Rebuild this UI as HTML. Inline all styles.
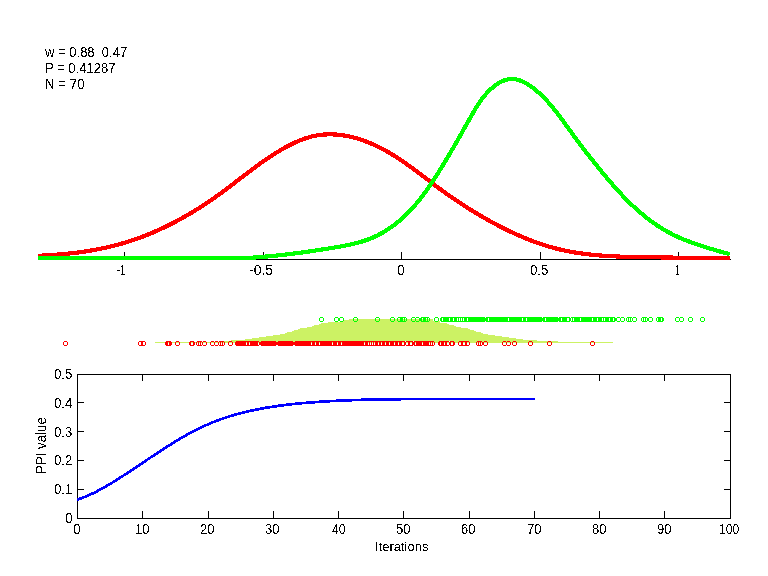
<!DOCTYPE html>
<html><head><meta charset="utf-8"><style>
html,body{margin:0;padding:0;background:#fff;width:768px;height:576px;overflow:hidden}
svg{display:block}
</style></head><body>
<svg width="768" height="576" viewBox="0 0 768 576">
<rect width="768" height="576" fill="#fff"/>
<g shape-rendering="crispEdges" stroke="#000" stroke-width="1">
<line x1="38" y1="259.5" x2="731" y2="259.5"/>
<line x1="124.5" y1="252" x2="124.5" y2="259"/>
<line x1="263.5" y1="252" x2="263.5" y2="259"/>
<line x1="401.5" y1="252" x2="401.5" y2="259"/>
<line x1="540.5" y1="252" x2="540.5" y2="259"/>
<line x1="678.5" y1="252" x2="678.5" y2="259"/>
</g>
<path d="M38.04,255.78 L39.90,255.70 L41.77,255.61 L43.64,255.52 L45.51,255.42 L47.38,255.31 L49.26,255.20 L51.13,255.08 L53.01,254.95 L54.89,254.81 L56.77,254.67 L58.65,254.52 L60.53,254.36 L62.42,254.19 L64.30,254.01 L66.18,253.83 L68.07,253.64 L69.95,253.43 L71.83,253.22 L73.72,253.00 L75.60,252.77 L77.48,252.53 L79.36,252.28 L81.24,252.02 L83.12,251.76 L85.00,251.48 L86.88,251.19 L88.75,250.89 L90.62,250.58 L92.49,250.26 L94.36,249.93 L96.23,249.58 L98.09,249.23 L99.95,248.86 L101.81,248.48 L103.66,248.10 L105.51,247.69 L107.36,247.28 L109.21,246.86 L111.05,246.42 L112.88,245.97 L114.72,245.50 L116.54,245.03 L118.37,244.54 L120.19,244.04 L122.00,243.52 L123.81,242.99 L125.62,242.45 L127.42,241.90 L129.21,241.33 L131.00,240.75 L132.79,240.15 L134.57,239.55 L136.35,238.93 L138.12,238.30 L139.89,237.65 L141.65,237.00 L143.41,236.33 L145.16,235.65 L146.91,234.96 L148.65,234.26 L150.39,233.54 L152.12,232.82 L153.85,232.08 L155.57,231.33 L157.29,230.57 L159.01,229.80 L160.72,229.02 L162.42,228.22 L164.12,227.42 L165.82,226.60 L167.51,225.78 L169.19,224.94 L170.87,224.10 L172.55,223.24 L174.22,222.38 L175.89,221.50 L177.55,220.62 L179.20,219.72 L180.86,218.81 L182.50,217.90 L184.15,216.98 L185.78,216.04 L187.42,215.10 L189.04,214.15 L190.67,213.19 L192.29,212.22 L193.90,211.24 L195.51,210.25 L197.11,209.26 L198.71,208.25 L200.30,207.24 L201.89,206.22 L203.48,205.19 L205.06,204.15 L206.63,203.11 L208.20,202.06 L209.77,201.00 L211.33,199.93 L212.88,198.86 L214.44,197.77 L215.98,196.68 L217.52,195.59 L219.06,194.48 L220.59,193.37 L222.12,192.26 L223.64,191.13 L225.16,190.00 L226.67,188.87 L228.19,187.73 L229.70,186.59 L231.20,185.44 L232.71,184.29 L234.21,183.14 L235.71,181.99 L237.22,180.83 L238.72,179.68 L240.22,178.52 L241.72,177.37 L243.23,176.21 L244.73,175.06 L246.24,173.91 L247.75,172.76 L249.26,171.61 L250.77,170.47 L252.29,169.33 L253.81,168.19 L255.34,167.06 L256.87,165.93 L258.41,164.82 L259.95,163.70 L261.50,162.60 L263.05,161.50 L264.61,160.41 L266.18,159.33 L267.75,158.25 L269.33,157.19 L270.92,156.14 L272.52,155.10 L274.13,154.07 L275.75,153.05 L277.38,152.04 L279.02,151.05 L280.66,150.07 L282.32,149.10 L283.99,148.15 L285.67,147.21 L287.37,146.30 L289.07,145.41 L290.78,144.54 L292.50,143.69 L294.23,142.87 L295.96,142.08 L297.71,141.32 L299.46,140.58 L301.22,139.89 L302.99,139.22 L304.77,138.59 L306.55,138.00 L308.34,137.45 L310.14,136.94 L311.95,136.48 L313.76,136.06 L315.57,135.68 L317.39,135.35 L319.22,135.07 L321.05,134.84 L322.88,134.65 L324.72,134.51 L326.56,134.41 L328.40,134.35 L330.24,134.34 L332.09,134.37 L333.94,134.44 L335.78,134.54 L337.63,134.69 L339.48,134.88 L341.32,135.10 L343.17,135.36 L345.01,135.66 L346.85,135.99 L348.69,136.36 L350.52,136.76 L352.35,137.20 L354.18,137.66 L356.00,138.16 L357.81,138.69 L359.62,139.25 L361.42,139.84 L363.22,140.46 L365.01,141.10 L366.79,141.77 L368.56,142.47 L370.32,143.19 L372.08,143.94 L373.82,144.71 L375.55,145.51 L377.28,146.32 L378.99,147.16 L380.69,148.02 L382.38,148.90 L384.05,149.80 L385.72,150.71 L387.37,151.65 L389.02,152.60 L390.65,153.57 L392.28,154.55 L393.89,155.55 L395.50,156.57 L397.10,157.59 L398.69,158.63 L400.27,159.69 L401.85,160.75 L403.41,161.82 L404.98,162.91 L406.53,164.00 L408.08,165.11 L409.63,166.22 L411.17,167.34 L412.70,168.46 L414.24,169.59 L415.76,170.73 L417.29,171.87 L418.81,173.01 L420.33,174.16 L421.85,175.31 L423.36,176.46 L424.88,177.61 L426.39,178.76 L427.90,179.91 L429.41,181.06 L430.92,182.21 L432.44,183.36 L433.95,184.50 L435.46,185.64 L436.98,186.77 L438.50,187.90 L440.02,189.02 L441.54,190.13 L443.07,191.24 L444.60,192.34 L446.13,193.44 L447.67,194.53 L449.21,195.61 L450.75,196.68 L452.30,197.75 L453.85,198.81 L455.40,199.87 L456.96,200.92 L458.52,201.96 L460.09,202.99 L461.66,204.02 L463.23,205.05 L464.81,206.06 L466.39,207.07 L467.98,208.08 L469.57,209.08 L471.16,210.07 L472.76,211.05 L474.37,212.03 L475.98,213.01 L477.59,213.98 L479.21,214.94 L480.84,215.90 L482.47,216.85 L484.10,217.79 L485.75,218.73 L487.39,219.66 L489.04,220.59 L490.70,221.50 L492.36,222.41 L494.02,223.32 L495.69,224.21 L497.37,225.10 L499.05,225.98 L500.73,226.85 L502.42,227.71 L504.11,228.56 L505.81,229.40 L507.52,230.24 L509.22,231.06 L510.94,231.88 L512.65,232.68 L514.37,233.47 L516.10,234.25 L517.83,235.03 L519.56,235.79 L521.30,236.53 L523.05,237.27 L524.79,238.00 L526.55,238.71 L528.30,239.41 L530.06,240.10 L531.83,240.77 L533.60,241.43 L535.37,242.08 L537.15,242.72 L538.93,243.34 L540.71,243.95 L542.50,244.54 L544.29,245.12 L546.09,245.68 L547.89,246.23 L549.69,246.76 L551.50,247.28 L553.31,247.78 L555.13,248.26 L556.95,248.73 L558.77,249.18 L560.60,249.62 L562.43,250.04 L564.26,250.44 L566.10,250.83 L567.94,251.20 L569.78,251.55 L571.63,251.89 L573.48,252.22 L575.33,252.53 L577.18,252.83 L579.04,253.11 L580.90,253.38 L582.76,253.64 L584.63,253.88 L586.50,254.11 L588.37,254.33 L590.24,254.54 L592.12,254.74 L593.99,254.93 L595.87,255.10 L597.75,255.27 L599.63,255.43 L601.52,255.57 L603.40,255.71 L605.29,255.84 L607.17,255.96 L609.06,256.07 L610.95,256.18 L612.85,256.28 L614.74,256.37 L616.63,256.45 L618.52,256.53 L620.42,256.60 L622.31,256.67 L624.21,256.73 L626.11,256.79 L628.00,256.84 L629.90,256.89 L631.80,256.93 L633.69,256.98 L635.59,257.01 L637.49,257.05 L639.38,257.08 L641.28,257.11 L643.18,257.14 L645.07,257.17 L646.97,257.20 L648.86,257.23 L650.75,257.25 L652.65,257.28 L654.54,257.31 L656.43,257.33 L658.32,257.36 L660.21,257.39 L662.09,257.42 L663.98,257.45 L665.87,257.48 L667.75,257.52 L669.64,257.55 L671.52,257.58 L673.40,257.61 L675.29,257.64 L677.17,257.67 L679.05,257.70 L680.93,257.73 L682.82,257.76 L684.70,257.79 L686.58,257.82 L688.46,257.84 L690.34,257.87 L692.23,257.89 L694.11,257.91 L695.99,257.93 L697.87,257.95 L699.76,257.97 L701.64,257.99 L703.53,258.00 L705.41,258.01 L707.30,258.02 L709.18,258.02 L711.07,258.03 L712.96,258.03 L714.85,258.03 L716.74,258.03 L718.63,258.03 L720.52,258.03 L722.42,258.03 L724.31,258.03 L726.21,258.03 L728.11,258.03 L730.00,258.03" fill="none" stroke="#ff0000" stroke-width="4.2" stroke-linejoin="round" shape-rendering="crispEdges"/>
<path d="M37.99,257.80 L40.10,257.80 L42.22,257.80 L44.33,257.80 L46.44,257.80 L48.56,257.80 L50.67,257.80 L52.78,257.80 L54.89,257.80 L57.00,257.80 L59.11,257.80 L61.22,257.80 L63.33,257.80 L65.44,257.80 L67.55,257.80 L69.66,257.80 L71.76,257.80 L73.87,257.80 L75.98,257.80 L78.09,257.80 L80.19,257.80 L82.30,257.80 L84.41,257.80 L86.51,257.80 L88.62,257.80 L90.72,257.80 L92.83,257.80 L94.94,257.80 L97.04,257.80 L99.15,257.80 L101.25,257.80 L103.36,257.80 L105.46,257.80 L107.57,257.80 L109.67,257.80 L111.78,257.80 L113.88,257.80 L115.99,257.80 L118.09,257.80 L120.20,257.80 L122.30,257.80 L124.41,257.80 L126.51,257.80 L128.62,257.80 L130.73,257.80 L132.83,257.80 L134.94,257.80 L137.05,257.80 L139.15,257.80 L141.26,257.80 L143.37,257.80 L145.47,257.80 L147.58,257.80 L149.69,257.80 L151.80,257.80 L153.91,257.80 L156.02,257.80 L158.13,257.80 L160.24,257.80 L162.35,257.80 L164.46,257.80 L166.57,257.80 L168.68,257.80 L170.80,257.80 L172.91,257.80 L175.02,257.80 L177.13,257.80 L179.25,257.80 L181.36,257.80 L183.47,257.80 L185.59,257.80 L187.70,257.80 L189.81,257.80 L191.93,257.80 L194.04,257.80 L196.16,257.80 L198.27,257.80 L200.38,257.80 L202.49,257.80 L204.61,257.80 L206.72,257.80 L208.83,257.80 L210.94,257.80 L213.06,257.80 L215.17,257.80 L217.28,257.80 L219.39,257.80 L221.50,257.80 L223.61,257.80 L225.72,257.80 L227.82,257.80 L229.93,257.80 L232.04,257.80 L234.15,257.80 L236.25,257.80 L238.36,257.80 L240.46,257.81 L242.56,257.82 L244.67,257.82 L246.77,257.80 L248.87,257.76 L250.97,257.69 L253.07,257.59 L255.17,257.46 L257.26,257.30 L259.36,257.09 L261.45,256.92 L263.55,256.75 L265.64,256.58 L267.74,256.40 L269.83,256.22 L271.92,256.02 L274.01,255.82 L276.11,255.61 L278.20,255.39 L280.29,255.17 L282.38,254.94 L284.47,254.70 L286.56,254.45 L288.65,254.20 L290.73,253.95 L292.82,253.69 L294.91,253.42 L297.00,253.14 L299.09,252.86 L301.18,252.58 L303.27,252.29 L305.35,252.00 L307.44,251.70 L309.53,251.40 L311.62,251.09 L313.71,250.78 L315.80,250.46 L317.89,250.14 L319.98,249.82 L322.07,249.50 L324.16,249.17 L326.25,248.84 L328.34,248.51 L330.43,248.17 L332.52,247.83 L334.62,247.49 L336.71,247.14 L338.80,246.78 L340.88,246.41 L342.96,246.03 L345.04,245.63 L347.12,245.22 L349.18,244.79 L351.24,244.34 L353.29,243.86 L355.34,243.36 L357.37,242.83 L359.39,242.27 L361.40,241.69 L363.40,241.06 L365.39,240.41 L367.36,239.71 L369.32,238.98 L371.27,238.20 L373.19,237.38 L375.10,236.52 L377.00,235.61 L378.87,234.66 L380.73,233.68 L382.57,232.65 L384.38,231.58 L386.18,230.48 L387.96,229.35 L389.71,228.18 L391.45,226.97 L393.16,225.74 L394.85,224.47 L396.51,223.17 L398.15,221.84 L399.77,220.49 L401.36,219.11 L402.92,217.70 L404.46,216.27 L405.98,214.82 L407.48,213.34 L408.95,211.84 L410.40,210.31 L411.83,208.77 L413.24,207.21 L414.63,205.62 L416.00,204.02 L417.35,202.40 L418.68,200.77 L420.00,199.12 L421.30,197.45 L422.58,195.77 L423.85,194.08 L425.10,192.37 L426.34,190.65 L427.56,188.92 L428.77,187.18 L429.97,185.43 L431.16,183.68 L432.33,181.91 L433.50,180.14 L434.65,178.36 L435.80,176.58 L436.93,174.79 L438.06,173.00 L439.18,171.21 L440.30,169.41 L441.40,167.61 L442.50,165.81 L443.60,164.01 L444.69,162.21 L445.77,160.41 L446.85,158.61 L447.92,156.80 L448.99,154.99 L450.06,153.19 L451.12,151.38 L452.17,149.57 L453.23,147.76 L454.28,145.95 L455.32,144.13 L456.36,142.32 L457.40,140.50 L458.44,138.69 L459.48,136.87 L460.51,135.05 L461.54,133.24 L462.57,131.42 L463.60,129.60 L464.63,127.77 L465.66,125.95 L466.69,124.13 L467.71,122.31 L468.74,120.48 L469.77,118.66 L470.79,116.83 L471.83,115.01 L472.87,113.19 L473.92,111.37 L474.98,109.56 L476.07,107.77 L477.18,105.98 L478.32,104.22 L479.50,102.46 L480.71,100.73 L481.95,99.02 L483.25,97.34 L484.59,95.68 L485.99,94.05 L487.44,92.46 L488.95,90.89 L490.53,89.36 L492.17,87.89 L493.87,86.47 L495.63,85.13 L497.44,83.88 L499.29,82.74 L501.18,81.73 L503.11,80.86 L505.08,80.14 L507.07,79.59 L509.09,79.23 L511.12,79.06 L513.16,79.08 L515.19,79.28 L517.22,79.65 L519.22,80.19 L521.18,80.89 L523.11,81.73 L525.01,82.70 L526.86,83.77 L528.68,84.93 L530.46,86.13 L532.20,87.38 L533.91,88.67 L535.57,89.99 L537.20,91.35 L538.80,92.75 L540.37,94.17 L541.91,95.63 L543.42,97.11 L544.90,98.62 L546.35,100.16 L547.78,101.72 L549.19,103.30 L550.58,104.91 L551.94,106.53 L553.29,108.17 L554.62,109.82 L555.94,111.49 L557.24,113.17 L558.52,114.86 L559.80,116.56 L561.07,118.27 L562.33,119.98 L563.58,121.70 L564.82,123.42 L566.06,125.14 L567.30,126.86 L568.54,128.58 L569.78,130.30 L571.02,132.01 L572.26,133.71 L573.50,135.41 L574.75,137.10 L575.99,138.79 L577.24,140.47 L578.50,142.15 L579.75,143.82 L581.01,145.49 L582.28,147.16 L583.54,148.82 L584.81,150.48 L586.09,152.13 L587.37,153.79 L588.65,155.44 L589.94,157.08 L591.23,158.73 L592.52,160.37 L593.82,162.01 L595.13,163.64 L596.44,165.28 L597.76,166.91 L599.08,168.54 L600.41,170.18 L601.74,171.81 L603.08,173.43 L604.43,175.06 L605.78,176.68 L607.14,178.30 L608.51,179.91 L609.89,181.52 L611.27,183.12 L612.66,184.72 L614.06,186.31 L615.47,187.89 L616.89,189.47 L618.31,191.04 L619.75,192.59 L621.20,194.14 L622.65,195.68 L624.12,197.21 L625.59,198.72 L627.08,200.23 L628.58,201.72 L630.09,203.20 L631.61,204.66 L633.14,206.11 L634.68,207.55 L636.24,208.97 L637.81,210.37 L639.39,211.76 L640.98,213.13 L642.59,214.48 L644.21,215.82 L645.84,217.13 L647.49,218.43 L649.16,219.71 L650.83,220.96 L652.53,222.20 L654.23,223.41 L655.96,224.60 L657.69,225.77 L659.45,226.91 L661.22,228.03 L663.01,229.13 L664.81,230.20 L666.63,231.24 L668.47,232.26 L670.32,233.25 L672.19,234.21 L674.08,235.15 L675.99,236.06 L677.90,236.95 L679.84,237.81 L681.78,238.65 L683.74,239.47 L685.70,240.27 L687.68,241.05 L689.67,241.80 L691.66,242.54 L693.66,243.26 L695.67,243.97 L697.68,244.66 L699.70,245.33 L701.72,246.00 L703.74,246.64 L705.77,247.28 L707.79,247.90 L709.81,248.51 L711.84,249.12 L713.86,249.71 L715.88,250.30 L717.89,250.88 L719.90,251.45 L721.90,252.02 L723.89,252.59 L725.88,253.15 L727.86,253.71 L729.83,254.26" fill="none" stroke="#00ff00" stroke-width="4.2" stroke-linejoin="round" shape-rendering="crispEdges"/>
<polygon shape-rendering="crispEdges" points="155,342 224,342 224,341 231,341 231,340 245,340 245,339 252,339 252,338 259,338 259,337 266,337 266,336 273,336 273,335 280,335 280,334 285,334 285,333 287,333 287,332 292,332 292,331 294,331 294,330 298,330 298,329 300,329 300,328 307,328 307,327 312,327 312,326 314,326 314,325 319,325 319,324 321,324 321,323 328,323 328,322 340,322 340,321 343,321 343,320 349,320 349,319 433,319 433,321 440,321 440,323 447,323 447,324 449,324 449,325 454,325 454,326 456,326 456,327 461,327 461,328 468,328 468,329 470,329 470,330 474,330 474,331 476,331 476,332 481,332 481,333 483,333 483,334 488,334 488,335 495,335 495,336 502,336 502,337 509,337 509,338 516,338 516,339 523,339 523,340 537,340 537,341 558,341 558,342 613,342 613,343 155,343" fill="#ccf264"/>
<g shape-rendering="crispEdges">
<path fill="#ff0000" d="M64,341h3v1h-3z M64,345h3v1h-3z M63,342h1v3h-1z M67,342h1v3h-1z M139,341h3v1h-3z M139,345h3v1h-3z M138,342h1v3h-1z M142,342h1v3h-1z M142,341h3v1h-3z M142,345h3v1h-3z M141,342h1v3h-1z M145,342h1v3h-1z M166,341h3v1h-3z M166,345h3v1h-3z M165,342h1v3h-1z M169,342h1v3h-1z M167,341h3v1h-3z M167,345h3v1h-3z M166,342h1v3h-1z M170,342h1v3h-1z M168,341h3v1h-3z M168,345h3v1h-3z M167,342h1v3h-1z M171,342h1v3h-1z M176,341h3v1h-3z M176,345h3v1h-3z M175,342h1v3h-1z M179,342h1v3h-1z M190,341h3v1h-3z M190,345h3v1h-3z M189,342h1v3h-1z M193,342h1v3h-1z M191,341h3v1h-3z M191,345h3v1h-3z M190,342h1v3h-1z M194,342h1v3h-1z M197,341h3v1h-3z M197,345h3v1h-3z M196,342h1v3h-1z M200,342h1v3h-1z M199,341h3v1h-3z M199,345h3v1h-3z M198,342h1v3h-1z M202,342h1v3h-1z M203,341h3v1h-3z M203,345h3v1h-3z M202,342h1v3h-1z M206,342h1v3h-1z M211,341h3v1h-3z M211,345h3v1h-3z M210,342h1v3h-1z M214,342h1v3h-1z M215,341h3v1h-3z M215,345h3v1h-3z M214,342h1v3h-1z M218,342h1v3h-1z M219,341h3v1h-3z M219,345h3v1h-3z M218,342h1v3h-1z M222,342h1v3h-1z M221,341h3v1h-3z M221,345h3v1h-3z M220,342h1v3h-1z M224,342h1v3h-1z M229,341h3v1h-3z M229,345h3v1h-3z M228,342h1v3h-1z M232,342h1v3h-1z M477,341h3v1h-3z M477,345h3v1h-3z M476,342h1v3h-1z M480,342h1v3h-1z M479,341h3v1h-3z M479,345h3v1h-3z M478,342h1v3h-1z M482,342h1v3h-1z M484,341h3v1h-3z M484,345h3v1h-3z M483,342h1v3h-1z M487,342h1v3h-1z M503,341h3v1h-3z M503,345h3v1h-3z M502,342h1v3h-1z M506,342h1v3h-1z M507,341h3v1h-3z M507,345h3v1h-3z M506,342h1v3h-1z M510,342h1v3h-1z M513,341h3v1h-3z M513,345h3v1h-3z M512,342h1v3h-1z M516,342h1v3h-1z M529,341h3v1h-3z M529,345h3v1h-3z M528,342h1v3h-1z M532,342h1v3h-1z M548,341h3v1h-3z M548,345h3v1h-3z M547,342h1v3h-1z M551,342h1v3h-1z M591,341h3v1h-3z M591,345h3v1h-3z M590,342h1v3h-1z M594,342h1v3h-1z "/>
<path fill="#ff0000" d="M236,341h23v1h-23z M235,342h25v3h-25z M236,345h23v1h-23z M261,341h15v1h-15z M260,342h17v3h-17z M261,345h15v1h-15z M278,341h15v1h-15z M277,342h17v3h-17z M278,345h15v1h-15z M295,341h110v1h-110z M294,342h112v3h-112z M295,345h110v1h-110z M406,341h7v1h-7z M405,342h9v3h-9z M406,345h7v1h-7z M414,341h20v1h-20z M413,342h22v3h-22z M414,345h20v1h-20z M439,341h15v1h-15z M438,342h17v3h-17z M439,345h15v1h-15z M459,341h10v1h-10z M458,342h12v3h-12z M459,345h10v1h-10z "/><path fill="#fff" d="M246,343h1v1h-1z M246,344h1v1h-1z M249,343h1v1h-1z M249,344h1v1h-1z M258,343h1v1h-1z M258,344h1v1h-1z M311,343h1v1h-1z M311,344h1v1h-1z M315,343h1v1h-1z M315,344h1v1h-1z M319,343h1v1h-1z M319,344h1v1h-1z M332,343h1v1h-1z M332,344h1v1h-1z M337,343h1v1h-1z M337,344h1v1h-1z M341,343h1v1h-1z M341,344h1v1h-1z M364,343h1v1h-1z M364,344h1v1h-1z M368,343h1v1h-1z M368,344h1v1h-1z M370,343h1v1h-1z M370,344h1v1h-1z M372,343h1v1h-1z M372,344h1v1h-1z M374,343h1v1h-1z M374,344h1v1h-1z M378,343h1v1h-1z M378,344h1v1h-1z M381,343h1v1h-1z M381,344h1v1h-1z M385,343h1v1h-1z M385,344h1v1h-1z M389,343h1v1h-1z M389,344h1v1h-1z M394,343h1v1h-1z M394,344h1v1h-1z M398,343h1v1h-1z M398,344h1v1h-1z M402,343h1v1h-1z M402,344h1v1h-1z M403,343h1v1h-1z M403,344h1v1h-1z M406,343h1v1h-1z M406,344h1v1h-1z M407,343h1v1h-1z M407,344h1v1h-1z M410,343h1v1h-1z M410,344h1v1h-1z M411,343h1v1h-1z M411,344h1v1h-1z M405,341h1v1h-1z M405,345h1v1h-1z M413,341h1v1h-1z M413,345h1v1h-1z M415,343h1v1h-1z M415,344h1v1h-1z M422,343h1v1h-1z M422,344h1v1h-1z M429,343h1v1h-1z M429,344h1v1h-1z M431,343h1v1h-1z M431,344h1v1h-1z M433,343h1v1h-1z M433,344h1v1h-1z M440,343h1v1h-1z M440,344h1v1h-1z M444,343h1v1h-1z M444,344h1v1h-1z M447,343h1v1h-1z M447,344h1v1h-1z M448,343h1v1h-1z M448,344h1v1h-1z M451,343h1v1h-1z M451,344h1v1h-1z M452,343h1v1h-1z M452,344h1v1h-1z M449,341h1v1h-1z M449,345h1v1h-1z M459,343h1v1h-1z M459,344h1v1h-1z M460,343h1v1h-1z M460,344h1v1h-1z M463,343h1v1h-1z M463,344h1v1h-1z M464,343h1v1h-1z M464,344h1v1h-1z M467,343h1v1h-1z M467,344h1v1h-1z M468,343h1v1h-1z M468,344h1v1h-1z "/><path fill="#ccf264" d="M246,342h1v1h-1z M249,342h1v1h-1z M258,342h1v1h-1z M311,342h1v1h-1z M315,342h1v1h-1z M319,342h1v1h-1z M332,342h1v1h-1z M337,342h1v1h-1z M341,342h1v1h-1z M364,342h1v1h-1z M368,342h1v1h-1z M370,342h1v1h-1z M372,342h1v1h-1z M374,342h1v1h-1z M378,342h1v1h-1z M381,342h1v1h-1z M385,342h1v1h-1z M389,342h1v1h-1z M394,342h1v1h-1z M398,342h1v1h-1z M402,342h1v1h-1z M403,342h1v1h-1z M406,342h1v1h-1z M407,342h1v1h-1z M410,342h1v1h-1z M411,342h1v1h-1z M415,342h1v1h-1z M422,342h1v1h-1z M429,342h1v1h-1z M431,342h1v1h-1z M433,342h1v1h-1z M440,342h1v1h-1z M444,342h1v1h-1z M447,342h1v1h-1z M448,342h1v1h-1z M451,342h1v1h-1z M452,342h1v1h-1z M459,342h1v1h-1z M460,342h1v1h-1z M463,342h1v1h-1z M464,342h1v1h-1z M467,342h1v1h-1z M468,342h1v1h-1z "/>
<path fill="#00ff00" d="M320,317h3v1h-3z M320,321h3v1h-3z M319,318h1v3h-1z M323,318h1v3h-1z M335,317h3v1h-3z M335,321h3v1h-3z M334,318h1v3h-1z M338,318h1v3h-1z M340,317h3v1h-3z M340,321h3v1h-3z M339,318h1v3h-1z M343,318h1v3h-1z M354,317h3v1h-3z M354,321h3v1h-3z M353,318h1v3h-1z M357,318h1v3h-1z M376,317h3v1h-3z M376,321h3v1h-3z M375,318h1v3h-1z M379,318h1v3h-1z M391,317h3v1h-3z M391,321h3v1h-3z M390,318h1v3h-1z M394,318h1v3h-1z M398,317h3v1h-3z M398,321h3v1h-3z M397,318h1v3h-1z M401,318h1v3h-1z M401,317h3v1h-3z M401,321h3v1h-3z M400,318h1v3h-1z M404,318h1v3h-1z M403,317h3v1h-3z M403,321h3v1h-3z M402,318h1v3h-1z M406,318h1v3h-1z M412,317h3v1h-3z M412,321h3v1h-3z M411,318h1v3h-1z M415,318h1v3h-1z M416,317h3v1h-3z M416,321h3v1h-3z M415,318h1v3h-1z M419,318h1v3h-1z M421,317h3v1h-3z M421,321h3v1h-3z M420,318h1v3h-1z M424,318h1v3h-1z M422,317h3v1h-3z M422,321h3v1h-3z M421,318h1v3h-1z M425,318h1v3h-1z M424,317h3v1h-3z M424,321h3v1h-3z M423,318h1v3h-1z M427,318h1v3h-1z M426,317h3v1h-3z M426,321h3v1h-3z M425,318h1v3h-1z M429,318h1v3h-1z M435,317h3v1h-3z M435,321h3v1h-3z M434,318h1v3h-1z M438,318h1v3h-1z M617,317h3v1h-3z M617,321h3v1h-3z M616,318h1v3h-1z M620,318h1v3h-1z M621,317h3v1h-3z M621,321h3v1h-3z M620,318h1v3h-1z M624,318h1v3h-1z M627,317h3v1h-3z M627,321h3v1h-3z M626,318h1v3h-1z M630,318h1v3h-1z M629,317h3v1h-3z M629,321h3v1h-3z M628,318h1v3h-1z M632,318h1v3h-1z M633,317h3v1h-3z M633,321h3v1h-3z M632,318h1v3h-1z M636,318h1v3h-1z M642,317h3v1h-3z M642,321h3v1h-3z M641,318h1v3h-1z M645,318h1v3h-1z M644,317h3v1h-3z M644,321h3v1h-3z M643,318h1v3h-1z M647,318h1v3h-1z M649,317h3v1h-3z M649,321h3v1h-3z M648,318h1v3h-1z M652,318h1v3h-1z M657,317h3v1h-3z M657,321h3v1h-3z M656,318h1v3h-1z M660,318h1v3h-1z M659,317h3v1h-3z M659,321h3v1h-3z M658,318h1v3h-1z M662,318h1v3h-1z M660,317h3v1h-3z M660,321h3v1h-3z M659,318h1v3h-1z M663,318h1v3h-1z M676,317h3v1h-3z M676,321h3v1h-3z M675,318h1v3h-1z M679,318h1v3h-1z M680,317h3v1h-3z M680,321h3v1h-3z M679,318h1v3h-1z M683,318h1v3h-1z M689,317h3v1h-3z M689,321h3v1h-3z M688,318h1v3h-1z M692,318h1v3h-1z M701,317h3v1h-3z M701,321h3v1h-3z M700,318h1v3h-1z M704,318h1v3h-1z "/>
<path fill="#00ff00" d="M441,317h174v1h-174z M440,318h176v3h-176z M441,321h174v1h-174z "/><path fill="#fff" d="M442,318h1v1h-1z M442,319h1v1h-1z M442,320h1v1h-1z M449,318h1v1h-1z M449,319h1v1h-1z M449,320h1v1h-1z M453,318h1v1h-1z M453,319h1v1h-1z M453,320h1v1h-1z M457,318h1v1h-1z M457,319h1v1h-1z M457,320h1v1h-1z M459,318h1v1h-1z M459,319h1v1h-1z M459,320h1v1h-1z M461,318h1v1h-1z M461,319h1v1h-1z M461,320h1v1h-1z M463,318h1v1h-1z M463,319h1v1h-1z M463,320h1v1h-1z M467,318h1v1h-1z M467,319h1v1h-1z M467,320h1v1h-1z M488,318h1v1h-1z M488,319h1v1h-1z M488,320h1v1h-1z M508,318h1v1h-1z M508,319h1v1h-1z M508,320h1v1h-1z M522,318h1v1h-1z M522,319h1v1h-1z M522,320h1v1h-1z M526,318h1v1h-1z M526,319h1v1h-1z M526,320h1v1h-1z M545,318h1v1h-1z M545,319h1v1h-1z M545,320h1v1h-1z M561,318h1v1h-1z M561,319h1v1h-1z M561,320h1v1h-1z M567,318h1v1h-1z M567,319h1v1h-1z M567,320h1v1h-1z M568,318h1v1h-1z M568,319h1v1h-1z M568,320h1v1h-1z M571,318h1v1h-1z M571,319h1v1h-1z M571,320h1v1h-1z M573,318h1v1h-1z M573,319h1v1h-1z M573,320h1v1h-1z M580,318h1v1h-1z M580,319h1v1h-1z M580,320h1v1h-1z M592,318h1v1h-1z M592,319h1v1h-1z M592,320h1v1h-1z M597,318h1v1h-1z M597,319h1v1h-1z M597,320h1v1h-1z M602,318h1v1h-1z M602,319h1v1h-1z M602,320h1v1h-1z M604,318h1v1h-1z M604,319h1v1h-1z M604,320h1v1h-1z M609,318h1v1h-1z M609,319h1v1h-1z M609,320h1v1h-1z M613,318h1v1h-1z M613,319h1v1h-1z M613,320h1v1h-1z M485,317h1v1h-1z M485,321h1v1h-1z M542,317h1v1h-1z M542,321h1v1h-1z M558,317h1v1h-1z M558,321h1v1h-1z M570,317h1v1h-1z M570,321h1v1h-1z "/>
</g>
<g shape-rendering="crispEdges" stroke="#000" stroke-width="1" fill="none">
<rect x="77.5" y="374.5" width="653" height="144"/>
<line x1="142.5" y1="511" x2="142.5" y2="518"/>
<line x1="142.5" y1="375" x2="142.5" y2="381"/>
<line x1="208.5" y1="511" x2="208.5" y2="518"/>
<line x1="208.5" y1="375" x2="208.5" y2="381"/>
<line x1="273.5" y1="511" x2="273.5" y2="518"/>
<line x1="273.5" y1="375" x2="273.5" y2="381"/>
<line x1="338.5" y1="511" x2="338.5" y2="518"/>
<line x1="338.5" y1="375" x2="338.5" y2="381"/>
<line x1="403.5" y1="511" x2="403.5" y2="518"/>
<line x1="403.5" y1="375" x2="403.5" y2="381"/>
<line x1="469.5" y1="511" x2="469.5" y2="518"/>
<line x1="469.5" y1="375" x2="469.5" y2="381"/>
<line x1="534.5" y1="511" x2="534.5" y2="518"/>
<line x1="534.5" y1="375" x2="534.5" y2="381"/>
<line x1="599.5" y1="511" x2="599.5" y2="518"/>
<line x1="599.5" y1="375" x2="599.5" y2="381"/>
<line x1="664.5" y1="511" x2="664.5" y2="518"/>
<line x1="664.5" y1="375" x2="664.5" y2="381"/>
<line x1="78" y1="489.5" x2="84" y2="489.5"/>
<line x1="724" y1="489.5" x2="730" y2="489.5"/>
<line x1="78" y1="460.5" x2="84" y2="460.5"/>
<line x1="724" y1="460.5" x2="730" y2="460.5"/>
<line x1="78" y1="431.5" x2="84" y2="431.5"/>
<line x1="724" y1="431.5" x2="730" y2="431.5"/>
<line x1="78" y1="402.5" x2="84" y2="402.5"/>
<line x1="724" y1="402.5" x2="730" y2="402.5"/>
</g>
<path d="M77.00,499.77 L78.53,499.27 L80.06,498.73 L81.59,498.17 L83.12,497.59 L84.65,496.98 L86.18,496.35 L87.71,495.69 L89.24,495.01 L90.77,494.32 L92.30,493.60 L93.83,492.86 L95.36,492.10 L96.89,491.32 L98.42,490.53 L99.95,489.71 L101.48,488.88 L103.01,488.04 L104.54,487.18 L106.07,486.30 L107.60,485.42 L109.13,484.51 L110.66,483.60 L112.19,482.67 L113.72,481.74 L115.25,480.79 L116.78,479.83 L118.31,478.87 L119.84,477.89 L121.37,476.91 L122.90,475.92 L124.43,474.92 L125.96,473.92 L127.49,472.92 L129.02,471.91 L130.55,470.89 L132.08,469.88 L133.61,468.86 L135.14,467.83 L136.67,466.81 L138.20,465.79 L139.73,464.76 L141.26,463.73 L142.79,462.71 L144.32,461.68 L145.85,460.65 L147.38,459.63 L148.91,458.61 L150.44,457.58 L151.97,456.57 L153.51,455.55 L155.04,454.54 L156.57,453.53 L158.10,452.52 L159.63,451.52 L161.16,450.52 L162.69,449.53 L164.22,448.54 L165.75,447.56 L167.28,446.58 L168.81,445.62 L170.34,444.66 L171.87,443.70 L173.40,442.76 L174.93,441.82 L176.46,440.89 L177.99,439.97 L179.52,439.06 L181.05,438.16 L182.58,437.27 L184.11,436.39 L185.64,435.52 L187.17,434.67 L188.70,433.82 L190.23,432.99 L191.76,432.17 L193.29,431.36 L194.82,430.57 L196.35,429.79 L197.88,429.02 L199.41,428.27 L200.94,427.54 L202.47,426.82 L204.00,426.11 L205.53,425.42 L207.06,424.75 L208.59,424.08 L210.12,423.44 L211.65,422.80 L213.18,422.18 L214.71,421.58 L216.24,420.98 L217.77,420.40 L219.30,419.84 L220.83,419.28 L222.36,418.74 L223.89,418.21 L225.42,417.70 L226.95,417.19 L228.48,416.70 L230.01,416.22 L231.54,415.75 L233.07,415.29 L234.60,414.84 L236.13,414.41 L237.66,413.98 L239.19,413.57 L240.72,413.16 L242.25,412.77 L243.78,412.38 L245.31,412.01 L246.84,411.64 L248.37,411.28 L249.90,410.93 L251.43,410.60 L252.96,410.27 L254.49,409.94 L256.02,409.63 L257.55,409.33 L259.08,409.03 L260.61,408.74 L262.14,408.46 L263.67,408.18 L265.20,407.92 L266.73,407.66 L268.26,407.40 L269.79,407.16 L271.32,406.91 L272.85,406.68 L274.38,406.45 L275.91,406.23 L277.44,406.01 L278.97,405.80 L280.50,405.59 L282.03,405.39 L283.56,405.20 L285.09,405.00 L286.62,404.82 L288.15,404.64 L289.68,404.46 L291.21,404.29 L292.74,404.12 L294.27,403.95 L295.80,403.80 L297.33,403.64 L298.86,403.49 L300.39,403.34 L301.92,403.20 L303.45,403.06 L304.98,402.93 L306.52,402.80 L308.05,402.67 L309.58,402.55 L311.11,402.43 L312.64,402.32 L314.17,402.21 L315.70,402.10 L317.23,402.00 L318.76,401.90 L320.29,401.80 L321.82,401.69 L323.35,401.59 L324.88,401.49 L326.41,401.39 L327.94,401.29 L329.47,401.20 L331.00,401.11 L332.53,401.03 L334.06,400.94 L335.59,400.86 L337.12,400.79 L338.65,400.71 L340.18,400.64 L341.71,400.57 L343.24,400.50 L344.77,400.43 L346.30,400.37 L347.83,400.31 L349.36,400.25 L350.89,400.19 L352.42,400.13 L353.95,400.08 L355.48,400.03 L357.01,399.98 L358.54,399.93 L360.07,399.88 L361.60,399.84 L363.13,399.79 L364.66,399.75 L366.19,399.71 L367.72,399.67 L369.25,399.63 L370.78,399.59 L372.31,399.55 L373.84,399.52 L375.37,399.48 L376.90,399.45 L378.43,399.41 L379.96,399.38 L381.49,399.36 L383.02,399.34 L384.55,399.32 L386.08,399.30 L387.61,399.29 L389.14,399.27 L390.67,399.25 L392.20,399.24 L393.73,399.22 L395.26,399.21 L396.79,399.19 L398.32,399.18 L399.85,399.17 L401.38,399.15 L402.91,399.14 L404.44,399.13 L405.97,399.12 L407.50,399.11 L409.03,399.10 L410.56,399.09 L412.09,399.08 L413.62,399.07 L415.15,399.06 L416.68,399.05 L418.21,399.04 L419.74,399.04 L421.27,399.03 L422.80,399.02 L424.33,399.02 L425.86,399.01 L427.39,399.00 L428.92,399.00 L430.45,398.99 L431.98,398.99 L433.51,398.98 L435.04,398.98 L436.57,398.98 L438.10,398.97 L439.63,398.97 L441.16,398.97 L442.69,398.97 L444.22,398.96 L445.75,398.96 L447.28,398.96 L448.81,398.96 L450.34,398.96 L451.87,398.96 L453.40,398.96 L454.93,398.95 L456.46,398.95 L457.99,398.95 L459.53,398.95 L461.06,398.95 L462.59,398.96 L464.12,398.96 L465.65,398.96 L467.18,398.96 L468.71,398.96 L470.24,398.96 L471.77,398.96 L473.30,398.96 L474.83,398.96 L476.36,398.96 L477.89,398.97 L479.42,398.97 L480.95,398.97 L482.48,398.97 L484.01,398.97 L485.54,398.97 L487.07,398.98 L488.60,398.98 L490.13,398.98 L491.66,398.98 L493.19,398.98 L494.72,398.99 L496.25,398.99 L497.78,398.99 L499.31,398.99 L500.84,398.99 L502.37,399.00 L503.90,399.00 L505.43,399.00 L506.96,399.00 L508.49,399.00 L510.02,399.00 L511.55,399.01 L513.08,399.01 L514.61,399.01 L516.14,399.01 L517.67,399.01 L519.20,399.01 L520.73,399.01 L522.26,399.01 L523.79,399.01 L525.32,399.01 L526.85,399.01 L528.38,399.01 L529.91,399.01 L531.44,399.01 L532.97,399.01 L534.50,399.01" fill="none" stroke="#0000ff" stroke-width="2.7" shape-rendering="crispEdges"/>
<defs><filter id="th" x="-0.2" y="-0.5" width="1.4" height="2"><feComponentTransfer><feFuncA type="discrete" tableValues="0 1"/></feComponentTransfer></filter></defs>
<g font-family="Liberation Sans, sans-serif" font-size="14" fill="#000">
<g filter="url(#th)"><text transform="translate(45.000,57.000) scale(0.9318,1.0000)">w = 0.88&#160;&#160;0.47</text></g>
<g filter="url(#th)"><text transform="translate(45.000,73.000) scale(0.9324,1.0000)">P = 0.41287</text></g>
<g filter="url(#th)"><text transform="translate(45.000,89.000) scale(0.9500,1.0000)">N = 70</text></g>
<g filter="url(#th)"><text transform="translate(117.000,275.000) scale(0.6465,1.0000)">-1</text></g>
<g filter="url(#th)"><text transform="translate(249.000,275.000) scale(1.0000,1.0000)">-0.5</text></g>
<g filter="url(#th)"><text transform="translate(397.000,275.000) scale(1.0000,1.0000)">0</text></g>
<g filter="url(#th)"><text transform="translate(530.000,275.000) scale(0.9444,1.0000)">0.5</text></g>
<g filter="url(#th)"><text transform="translate(675.000,275.000) scale(0.6000,1.0000)">1</text></g>
<g filter="url(#th)"><text transform="translate(375.000,551.000) scale(0.9286,0.9183)">Iterations</text></g>
<g filter="url(#th)"><text transform="translate(65.000,523.000) scale(1.0000,1.0000)">0</text></g>
<g filter="url(#th)"><text transform="translate(54.000,494.000) scale(0.9444,1.0000)">0.1</text></g>
<g filter="url(#th)"><text transform="translate(54.000,465.000) scale(0.9444,1.0000)">0.2</text></g>
<g filter="url(#th)"><text transform="translate(54.000,437.000) scale(0.9444,1.0000)">0.3</text></g>
<g filter="url(#th)"><text transform="translate(54.000,408.000) scale(0.9444,1.0000)">0.4</text></g>
<g filter="url(#th)"><text transform="translate(54.000,379.000) scale(0.9444,1.0000)">0.5</text></g>
<g filter="url(#th)"><text transform="translate(73.000,534.000) scale(1.0000,1.0000)">0</text></g>
<g filter="url(#th)"><text transform="translate(135.000,534.000) scale(0.9286,1.0000)">10</text></g>
<g filter="url(#th)"><text transform="translate(200.000,534.000) scale(0.9286,1.0000)">20</text></g>
<g filter="url(#th)"><text transform="translate(265.000,534.000) scale(0.9286,1.0000)">30</text></g>
<g filter="url(#th)"><text transform="translate(332.000,534.000) scale(0.8667,1.0000)">40</text></g>
<g filter="url(#th)"><text transform="translate(396.000,534.000) scale(0.9286,1.0000)">50</text></g>
<g filter="url(#th)"><text transform="translate(461.000,534.000) scale(0.9286,1.0000)">60</text></g>
<g filter="url(#th)"><text transform="translate(527.000,534.000) scale(0.9286,1.0000)">70</text></g>
<g filter="url(#th)"><text transform="translate(592.000,534.000) scale(0.9286,1.0000)">80</text></g>
<g filter="url(#th)"><text transform="translate(657.000,534.000) scale(0.9286,1.0000)">90</text></g>
<g filter="url(#th)"><text transform="translate(719.000,534.000) scale(0.8636,1.0000)">100</text></g>
<g filter="url(#th)"><text transform="translate(45.50,474.00) rotate(-90) scale(0.950,0.985)">PPI value</text></g>
</g>
</svg>
</body></html>
